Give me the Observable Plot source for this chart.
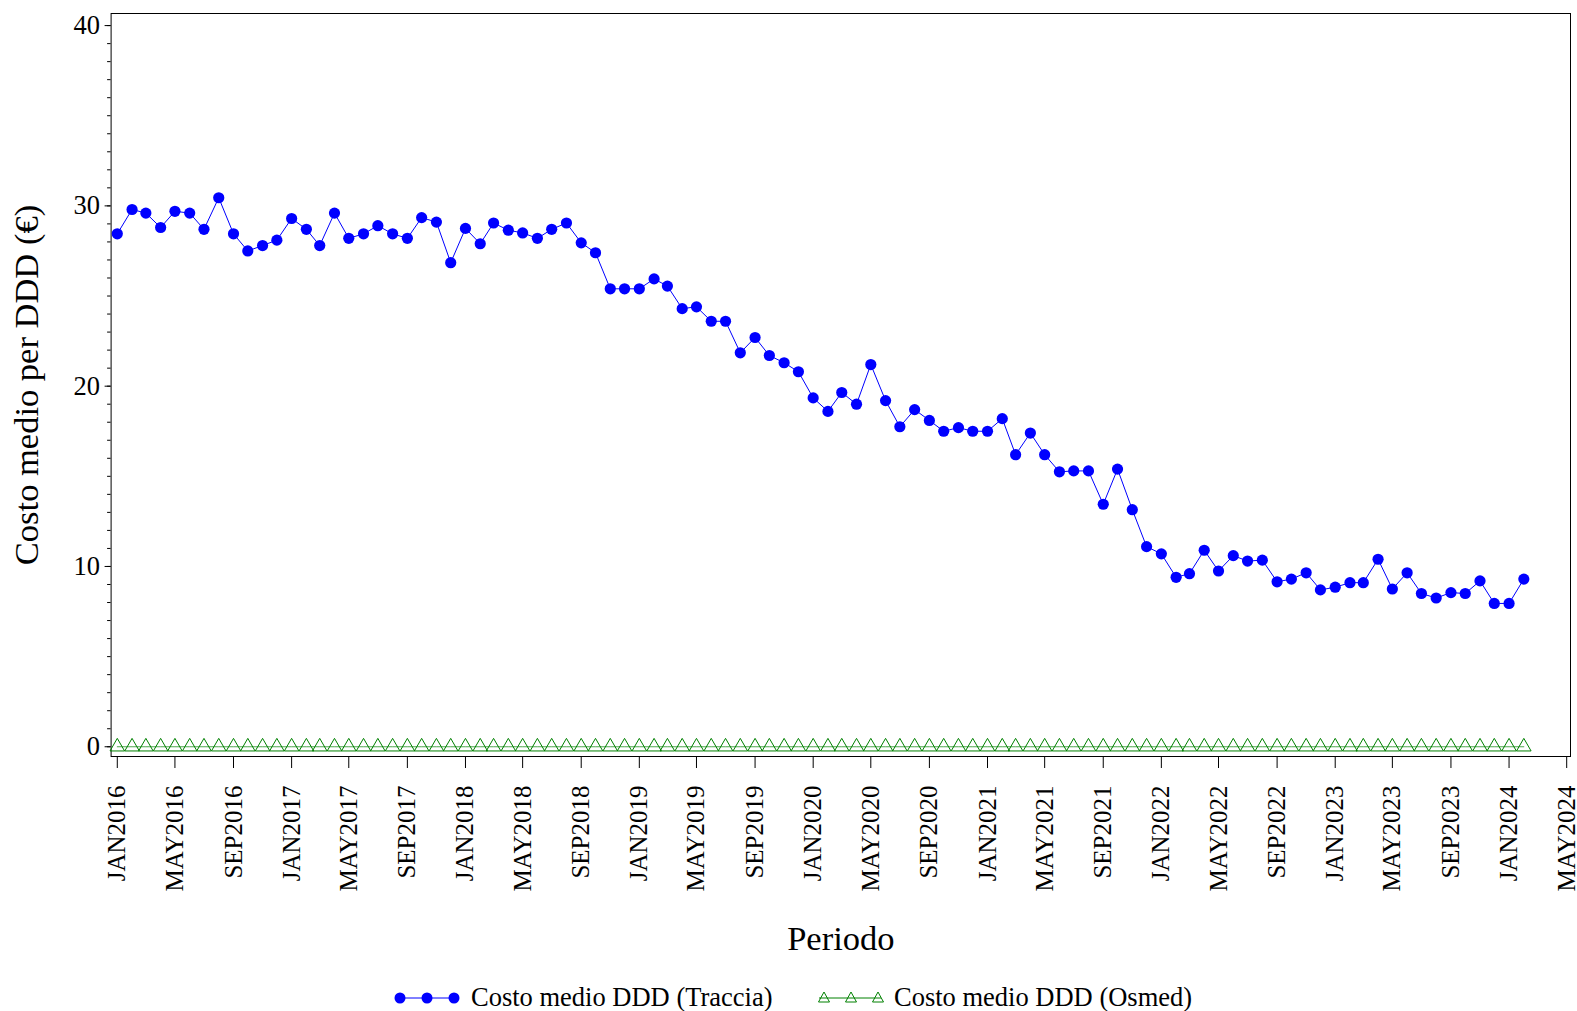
<!DOCTYPE html>
<html><head><meta charset="utf-8">
<script src="https://cdn.jsdelivr.net/npm/d3@7"></script>
<script src="https://cdn.jsdelivr.net/npm/@observablehq/plot@0.6"></script>
<style>
body{margin:0;background:#fff;font-family:"Liberation Serif","Times New Roman",serif;}
#wrap{position:relative;width:1577px;height:1011px;overflow:hidden;}
#chart{position:absolute;left:0;top:0;}
.leg{position:absolute;top:980px;font-size:26.5px;color:#000;white-space:nowrap;line-height:34px;}
.legsym{position:absolute;top:988px;}
</style></head><body>
<div id="wrap"><div id="chart"></div>
<svg class="legsym" style="left:394px" width="66" height="20"><line x1="5" x2="61" y1="10" y2="10" stroke="#0000ff"/><circle cx="6" cy="10" r="5.5" fill="#0000ff"/><circle cx="33" cy="10" r="5.5" fill="#0000ff"/><circle cx="60" cy="10" r="5.5" fill="#0000ff"/></svg>
<div class="leg" id="l1" style="left:471px"></div>
<svg class="legsym" style="left:815px" width="70" height="20"><line x1="4" x2="66" y1="10" y2="10" stroke="#008000"/><path d="M9,4 L14.5,14 L3.5,14 Z M36,4 L41.5,14 L30.5,14 Z M63,4 L68.5,14 L57.5,14 Z" fill="none" stroke="#008000"/></svg>
<div class="leg" id="l2" style="left:894px"></div>
</div>
<script>
// Series: monthly, starting January 2016
const startYear = 2016;
const monthNames = ["JAN","FEB","MAR","APR","MAY","JUN","JUL","AUG","SEP","OCT","NOV","DEC"];
const traccia = [
  28.45, 29.8, 29.6, 28.8, 29.7, 29.6, 28.7, 30.45, 28.45, 27.5, 27.8, 28.1,
  29.3, 28.7, 27.8, 29.6, 28.2, 28.45, 28.9, 28.45, 28.2, 29.35, 29.1, 26.85,
  28.75, 27.9, 29.05, 28.65, 28.5, 28.2, 28.7, 29.05, 27.95, 27.4, 25.4, 25.4,
  25.4, 25.95, 25.55, 24.3, 24.4, 23.6, 23.6, 21.85, 22.7, 21.7, 21.3, 20.8,
  19.35, 18.6, 19.65, 19.0, 21.2, 19.2, 17.75, 18.7, 18.1, 17.5, 17.7, 17.5,
  17.5, 18.2, 16.2, 17.4, 16.2, 15.25, 15.3, 15.3, 13.45, 15.4, 13.15, 11.1,
  10.7, 9.4, 9.6, 10.9, 9.75, 10.6, 10.3, 10.35, 9.15, 9.3, 9.65, 8.7,
  8.85, 9.1, 9.1, 10.4, 8.75, 9.65, 8.5, 8.25, 8.55, 8.5, 9.2, 7.95,
  7.95, 9.3
];
const osmed = [
  0,0,0,0,0,0,0,0,0,0,0,0, 0,0,0,0,0,0,0,0,0,0,0,0,
  0,0,0,0,0,0,0,0,0,0,0,0, 0,0,0,0,0,0,0,0,0,0,0,0,
  0,0,0,0,0,0,0,0,0,0,0,0, 0,0,0,0,0,0,0,0,0,0,0,0,
  0,0,0,0,0,0,0,0,0,0,0,0, 0,0,0,0,0,0,0,0,0,0,0,0,
  0,0
];
const yMajorTicks = [0, 10, 20, 30, 40];
const seriesNames = ["Costo medio DDD (Traccia)", "Costo medio DDD (Osmed)"];
const yTitle = "Costo medio per DDD (€)";
const xTitle = "Periodo";

const dateOf = i => new Date(Date.UTC(startYear, i, 1));
const rowsT = traccia.map((v, i) => ({date: dateOf(i), value: v}));
const rowsO = osmed.map((v, i) => ({date: dateOf(i), value: v}));
const xTicks = d3.utcMonth.every(4).range(new Date(Date.UTC(2016,0,1)), new Date(Date.UTC(2024,5,1)));
const fmt = d => monthNames[d.getUTCMonth()] + d.getUTCFullYear();

const W = 1577, H = 965;
const chart = Plot.plot({
  width: W, height: H,
  marginLeft: 110.6, marginRight: 7, marginTop: 13, marginBottom: H - 756,
  style: {fontFamily: '"Liberation Serif","Times New Roman",serif', background: "#fff", color: "#000"},
  x: {type: "utc", domain: [new Date(Date.UTC(2015,11,19)), new Date(Date.UTC(2024,4,9))]},
  y: {domain: [-0.54, 40.67]},
  marks: [
    Plot.frame({stroke: "#000", strokeWidth: 1}),
    Plot.axisY(d3.range(0, 41, 1), {tickSize: 3.5, text: null, label: null, strokeWidth: 1}),
    Plot.axisY(yMajorTicks, {tickSize: 6, tickPadding: 5, fontSize: 26.5, label: null, tickFormat: d => String(d)}),
    Plot.axisX(xTicks, {tickSize: 12, tickPadding: 17, fontSize: 25, tickRotate: -90, tickFormat: fmt, label: null}),
    Plot.lineY(rowsO, {x: "date", y: "value", stroke: "#008000", strokeWidth: 1, strokeOpacity: 0.7}),
    Plot.dot(rowsO, {x: "date", y: "value", symbol: "triangle", r: 5.4, stroke: "#008000", fill: "none", strokeWidth: 1}),
    Plot.lineY(rowsT, {x: "date", y: "value", stroke: "#0000ff", strokeWidth: 1}),
    Plot.dot(rowsT, {x: "date", y: "value", r: 5.6, fill: "#0000ff", stroke: "none"}),
    Plot.text([yTitle], {frameAnchor: "left", dx: -84, rotate: -90, textAnchor: "middle", fontSize: 34.5, fill: "#000"}),
    Plot.text([xTitle], {frameAnchor: "bottom", dy: 193, fontSize: 34.5, fill: "#000"})
  ]
});
document.getElementById("chart").appendChild(chart);
document.getElementById("l1").textContent = seriesNames[0];
document.getElementById("l2").textContent = seriesNames[1];
</script>
</body></html>
